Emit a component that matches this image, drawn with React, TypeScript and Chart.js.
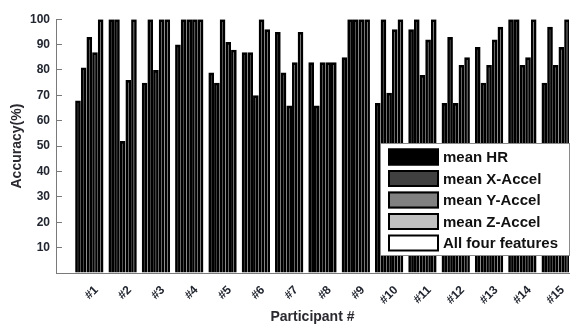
import React, { useEffect, useRef } from 'react';
import { Chart, registerables } from 'chart.js';

Chart.register(...registerables);

const participants = ['#1', '#2', '#3', '#4', '#5', '#6', '#7', '#8', '#9', '#10', '#11', '#12', '#13', '#14', '#15'];
const meanHR = [68, 100, 75, 90, 79, 87, 95, 83, 85, 67, 96, 67, 89, 100, 75];
const meanXAccel = [81, 100, 100, 100, 75, 87, 79, 66, 100, 100, 100, 93, 75, 100, 97];
const meanYAccel = [93, 52, 80, 100, 100, 70, 66, 83, 100, 71, 78, 67, 82, 82, 82];
const meanZAccel = [87, 76, 100, 100, 91, 100, 83, 83, 100, 96, 92, 82, 92, 85, 89];
const allFour = [100, 100, 100, 100, 88, 96, 95, 83, 100, 100, 100, 85, 97, 100, 100];
const seriesLabels = ['mean HR', 'mean X-Accel', 'mean Y-Accel', 'mean Z-Accel', 'All four features'];
const seriesColors = ['#000000', '#404040', '#808080', '#c0c0c0', '#ffffff'];
const yTickValues = [0, 10, 20, 30, 40, 50, 60, 70, 80, 90, 100];

const FONT = '"Liberation Sans", Arial, Helvetica, sans-serif';

const boxLegend = {
  id: 'boxLegend',
  afterDraw(chart: any) {
    const ctx = chart.ctx;
    const area = chart.chartArea;
    const w = 190;
    const h = 113;
    const left = area.right - w + 1;
    const top = 143;
    ctx.save();
    ctx.fillStyle = '#ffffff';
    ctx.fillRect(left, top, w, h);
    ctx.strokeStyle = '#8a8a8a';
    ctx.lineWidth = 1;
    ctx.strokeRect(left + 0.5, top + 0.5, w - 1, h - 1);
    chart.data.datasets.forEach((ds: any, i: number) => {
      const cy = top + 14 + i * 21.5;
      const sx = left + 8;
      const sw = 51;
      const sh = 17;
      ctx.fillStyle = ds.backgroundColor;
      ctx.fillRect(sx, cy - sh / 2, sw, sh);
      ctx.strokeStyle = '#000000';
      ctx.lineWidth = 2;
      ctx.strokeRect(sx + 1, cy - sh / 2 + 1, sw - 2, sh - 2);
      ctx.fillStyle = '#111111';
      ctx.font = `bold 15px ${FONT}`;
      ctx.textBaseline = 'middle';
      ctx.textAlign = 'left';
      ctx.fillText(ds.label, left + 63, cy + 1);
    });
    ctx.restore();
  },
};

export default function App() {
  const ref = useRef<HTMLCanvasElement | null>(null);

  useEffect(() => {
    if (!ref.current) return;
    const series = [meanHR, meanXAccel, meanYAccel, meanZAccel, allFour];
    const chart = new Chart(ref.current, {
      type: 'bar',
      data: {
        datasets: series.map((vals, k) => ({
          label: seriesLabels[k],
          data: vals.map((v, i) => ({ x: i + 1, y: v })),
          backgroundColor: seriesColors[k],
          borderColor: '#000000',
          borderWidth: 2.7,
          categoryPercentage: 0.85,
          barPercentage: 1.0,
        })),
      },
      options: {
        animation: false,
        responsive: false,
        layout: { padding: { left: 0, right: 12, top: 8, bottom: 2 } },
        plugins: {
          legend: { display: false },
          tooltip: { enabled: false },
        },
        scales: {
          x: {
            type: 'linear',
            offset: false,
            min: 0,
            max: 15.4,
            afterBuildTicks: (s: any) => {
              s.ticks = participants.map((_, i) => ({ value: i + 1 }));
            },
            afterFit: (s: any) => {
              s.height = 54;
            },
            ticks: {
              autoSkip: false,
              minRotation: 45,
              maxRotation: 45,
              padding: 2,
              labelOffset: 7,
              color: '#222630',
              font: { family: FONT, size: 12, weight: 'bold' },
              callback: (_v: any, i: number) => participants[i],
            },
            grid: { display: false },
            border: { color: '#7a7a7a', width: 1 },
            title: {
              display: true,
              text: 'Participant #',
              color: '#2a2a30',
              font: { family: FONT, size: 14, weight: 'bold' },
              padding: { top: 0, bottom: 1 },
            },
          },
          y: {
            min: 0,
            max: 100,
            afterBuildTicks: (s: any) => {
              s.ticks = yTickValues.map((v) => ({ value: v }));
            },
            afterFit: (s: any) => {
              s.width = 56;
            },
            ticks: {
              padding: 12,
              color: '#222630',
              font: { family: FONT, size: 12, weight: 'bold' },
              callback: (v: any) => (v === 0 ? '' : String(v)),
            },
            grid: { drawOnChartArea: false, color: '#7a7a7a', tickLength: -6 },
            border: { color: '#7a7a7a', width: 1 },
            title: {
              display: true,
              text: 'Accuracy(%)',
              color: '#2a2a30',
              font: { family: FONT, size: 14, weight: 'bold' },
              padding: { top: 9, bottom: 0 },
            },
          },
        },
      },
      plugins: [boxLegend],
    } as any);
    return () => chart.destroy();
  }, []);

  return (
    <div style={{ position: 'fixed', left: 0, top: 0, width: 581, height: 329, background: '#fff' }}>
      <canvas ref={ref} width={581} height={329} />
    </div>
  );
}
